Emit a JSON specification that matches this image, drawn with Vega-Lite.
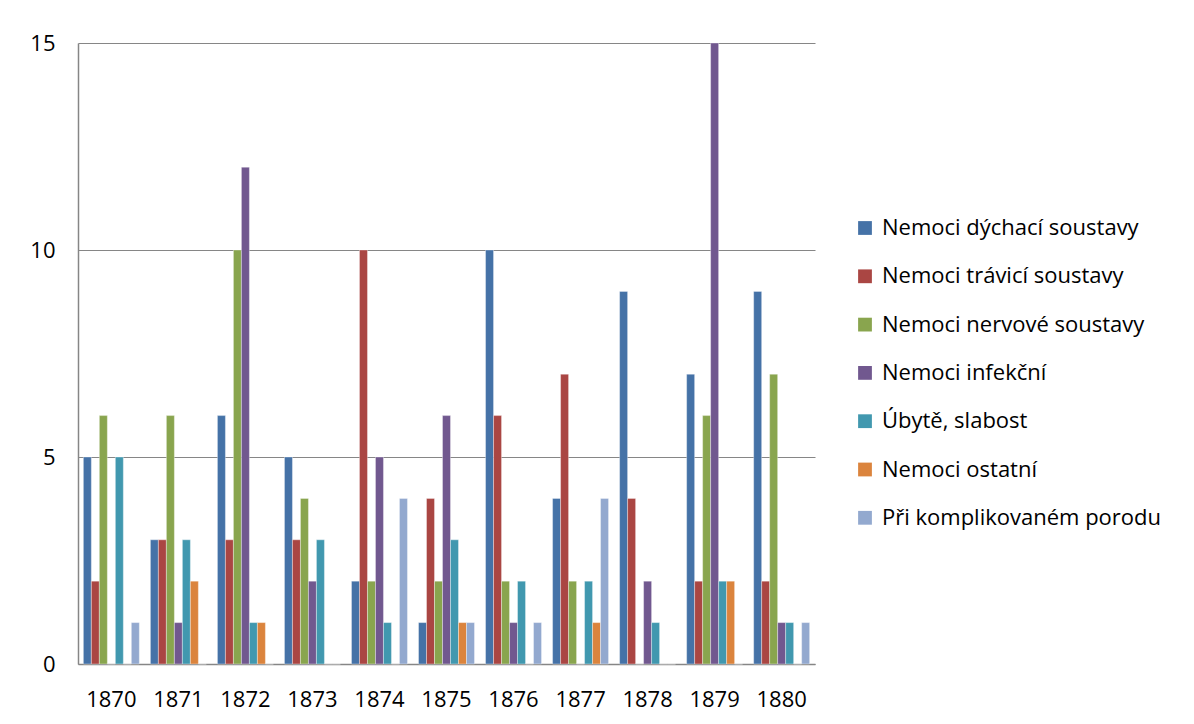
{
  "$schema": "https://vega.github.io/schema/vega-lite/v6.json",
  "autosize": "none",
  "width": 737,
  "height": 621,
  "padding": {"left": 78, "top": 43, "right": 379, "bottom": 60},
  "background": "white",
  "config": {
    "font": "Open Sans",
    "view": {"stroke": null},
    "axis": {"labelFont": "Open Sans", "labelColor": "#000000", "labelFontSize": 22}
  },
  "data": {
    "values": [
      {"rok": "1870", "pricina": "Nemoci dýchací soustavy", "pocet": 5},
      {"rok": "1870", "pricina": "Nemoci trávicí soustavy", "pocet": 2},
      {"rok": "1870", "pricina": "Nemoci nervové soustavy", "pocet": 6},
      {"rok": "1870", "pricina": "Nemoci infekční", "pocet": 0},
      {"rok": "1870", "pricina": "Úbytě, slabost", "pocet": 5},
      {"rok": "1870", "pricina": "Nemoci ostatní", "pocet": 0},
      {"rok": "1870", "pricina": "Při komplikovaném porodu", "pocet": 1},
      {"rok": "1871", "pricina": "Nemoci dýchací soustavy", "pocet": 3},
      {"rok": "1871", "pricina": "Nemoci trávicí soustavy", "pocet": 3},
      {"rok": "1871", "pricina": "Nemoci nervové soustavy", "pocet": 6},
      {"rok": "1871", "pricina": "Nemoci infekční", "pocet": 1},
      {"rok": "1871", "pricina": "Úbytě, slabost", "pocet": 3},
      {"rok": "1871", "pricina": "Nemoci ostatní", "pocet": 2},
      {"rok": "1871", "pricina": "Při komplikovaném porodu", "pocet": 0},
      {"rok": "1872", "pricina": "Nemoci dýchací soustavy", "pocet": 6},
      {"rok": "1872", "pricina": "Nemoci trávicí soustavy", "pocet": 3},
      {"rok": "1872", "pricina": "Nemoci nervové soustavy", "pocet": 10},
      {"rok": "1872", "pricina": "Nemoci infekční", "pocet": 12},
      {"rok": "1872", "pricina": "Úbytě, slabost", "pocet": 1},
      {"rok": "1872", "pricina": "Nemoci ostatní", "pocet": 1},
      {"rok": "1872", "pricina": "Při komplikovaném porodu", "pocet": 0},
      {"rok": "1873", "pricina": "Nemoci dýchací soustavy", "pocet": 5},
      {"rok": "1873", "pricina": "Nemoci trávicí soustavy", "pocet": 3},
      {"rok": "1873", "pricina": "Nemoci nervové soustavy", "pocet": 4},
      {"rok": "1873", "pricina": "Nemoci infekční", "pocet": 2},
      {"rok": "1873", "pricina": "Úbytě, slabost", "pocet": 3},
      {"rok": "1873", "pricina": "Nemoci ostatní", "pocet": 0},
      {"rok": "1873", "pricina": "Při komplikovaném porodu", "pocet": 0},
      {"rok": "1874", "pricina": "Nemoci dýchací soustavy", "pocet": 2},
      {"rok": "1874", "pricina": "Nemoci trávicí soustavy", "pocet": 10},
      {"rok": "1874", "pricina": "Nemoci nervové soustavy", "pocet": 2},
      {"rok": "1874", "pricina": "Nemoci infekční", "pocet": 5},
      {"rok": "1874", "pricina": "Úbytě, slabost", "pocet": 1},
      {"rok": "1874", "pricina": "Nemoci ostatní", "pocet": 0},
      {"rok": "1874", "pricina": "Při komplikovaném porodu", "pocet": 4},
      {"rok": "1875", "pricina": "Nemoci dýchací soustavy", "pocet": 1},
      {"rok": "1875", "pricina": "Nemoci trávicí soustavy", "pocet": 4},
      {"rok": "1875", "pricina": "Nemoci nervové soustavy", "pocet": 2},
      {"rok": "1875", "pricina": "Nemoci infekční", "pocet": 6},
      {"rok": "1875", "pricina": "Úbytě, slabost", "pocet": 3},
      {"rok": "1875", "pricina": "Nemoci ostatní", "pocet": 1},
      {"rok": "1875", "pricina": "Při komplikovaném porodu", "pocet": 1},
      {"rok": "1876", "pricina": "Nemoci dýchací soustavy", "pocet": 10},
      {"rok": "1876", "pricina": "Nemoci trávicí soustavy", "pocet": 6},
      {"rok": "1876", "pricina": "Nemoci nervové soustavy", "pocet": 2},
      {"rok": "1876", "pricina": "Nemoci infekční", "pocet": 1},
      {"rok": "1876", "pricina": "Úbytě, slabost", "pocet": 2},
      {"rok": "1876", "pricina": "Nemoci ostatní", "pocet": 0},
      {"rok": "1876", "pricina": "Při komplikovaném porodu", "pocet": 1},
      {"rok": "1877", "pricina": "Nemoci dýchací soustavy", "pocet": 4},
      {"rok": "1877", "pricina": "Nemoci trávicí soustavy", "pocet": 7},
      {"rok": "1877", "pricina": "Nemoci nervové soustavy", "pocet": 2},
      {"rok": "1877", "pricina": "Nemoci infekční", "pocet": 0},
      {"rok": "1877", "pricina": "Úbytě, slabost", "pocet": 2},
      {"rok": "1877", "pricina": "Nemoci ostatní", "pocet": 1},
      {"rok": "1877", "pricina": "Při komplikovaném porodu", "pocet": 4},
      {"rok": "1878", "pricina": "Nemoci dýchací soustavy", "pocet": 9},
      {"rok": "1878", "pricina": "Nemoci trávicí soustavy", "pocet": 4},
      {"rok": "1878", "pricina": "Nemoci nervové soustavy", "pocet": 0},
      {"rok": "1878", "pricina": "Nemoci infekční", "pocet": 2},
      {"rok": "1878", "pricina": "Úbytě, slabost", "pocet": 1},
      {"rok": "1878", "pricina": "Nemoci ostatní", "pocet": 0},
      {"rok": "1878", "pricina": "Při komplikovaném porodu", "pocet": 0},
      {"rok": "1879", "pricina": "Nemoci dýchací soustavy", "pocet": 7},
      {"rok": "1879", "pricina": "Nemoci trávicí soustavy", "pocet": 2},
      {"rok": "1879", "pricina": "Nemoci nervové soustavy", "pocet": 6},
      {"rok": "1879", "pricina": "Nemoci infekční", "pocet": 15},
      {"rok": "1879", "pricina": "Úbytě, slabost", "pocet": 2},
      {"rok": "1879", "pricina": "Nemoci ostatní", "pocet": 2},
      {"rok": "1879", "pricina": "Při komplikovaném porodu", "pocet": 0},
      {"rok": "1880", "pricina": "Nemoci dýchací soustavy", "pocet": 9},
      {"rok": "1880", "pricina": "Nemoci trávicí soustavy", "pocet": 2},
      {"rok": "1880", "pricina": "Nemoci nervové soustavy", "pocet": 7},
      {"rok": "1880", "pricina": "Nemoci infekční", "pocet": 1},
      {"rok": "1880", "pricina": "Úbytě, slabost", "pocet": 1},
      {"rok": "1880", "pricina": "Nemoci ostatní", "pocet": 0},
      {"rok": "1880", "pricina": "Při komplikovaném porodu", "pocet": 1}
    ]
  },
  "mark": {"type": "bar", "stroke": "white", "strokeWidth": 0.6, "strokeOpacity": 0.6},
  "encoding": {
    "x": {
      "field": "rok",
      "type": "nominal",
      "title": null,
      "scale": {"paddingInner": 0.165, "paddingOuter": 0.08},
      "axis": {
        "labelAngle": 0,
        "labelPadding": 35,
        "labelBaseline": "middle",
        "ticks": false,
        "domainColor": "#868686",
        "domainWidth": 1.5
      }
    },
    "y": {
      "field": "pocet",
      "type": "quantitative",
      "title": null,
      "scale": {"domain": [0, 15], "nice": false},
      "axis": {
        "values": [0, 5, 10, 15],
        "ticks": false,
        "labelPadding": 23,
        "gridColor": "#868686",
        "gridWidth": 1.2,
        "domainColor": "#868686",
        "domainWidth": 1.5
      }
    },
    "xOffset": {
      "field": "pricina",
      "type": "nominal",
      "sort": [
        "Nemoci dýchací soustavy",
        "Nemoci trávicí soustavy",
        "Nemoci nervové soustavy",
        "Nemoci infekční",
        "Úbytě, slabost",
        "Nemoci ostatní",
        "Při komplikovaném porodu"
      ],
      "scale": {"paddingInner": 0, "paddingOuter": 0}
    },
    "color": {
      "field": "pricina",
      "type": "nominal",
      "title": null,
      "sort": [
        "Nemoci dýchací soustavy",
        "Nemoci trávicí soustavy",
        "Nemoci nervové soustavy",
        "Nemoci infekční",
        "Úbytě, slabost",
        "Nemoci ostatní",
        "Při komplikovaném porodu"
      ],
      "scale": {
        "domain": [
          "Nemoci dýchací soustavy",
          "Nemoci trávicí soustavy",
          "Nemoci nervové soustavy",
          "Nemoci infekční",
          "Úbytě, slabost",
          "Nemoci ostatní",
          "Při komplikovaném porodu"
        ],
        "range": ["#4572A7", "#AA4643", "#89A54E", "#71588F", "#4198AF", "#DB843D", "#93A9CF"]
      },
      "legend": {
        "orient": "none",
        "legendX": 776,
        "legendY": 174,
        "symbolType": "square",
        "symbolSize": 190,
        "symbolStrokeWidth": 0,
        "labelFont": "Open Sans",
        "labelFontSize": 22,
        "labelColor": "#000000",
        "labelOffset": 6,
        "rowPadding": 26.3,
        "labelLimit": 400
      }
    }
  }
}
